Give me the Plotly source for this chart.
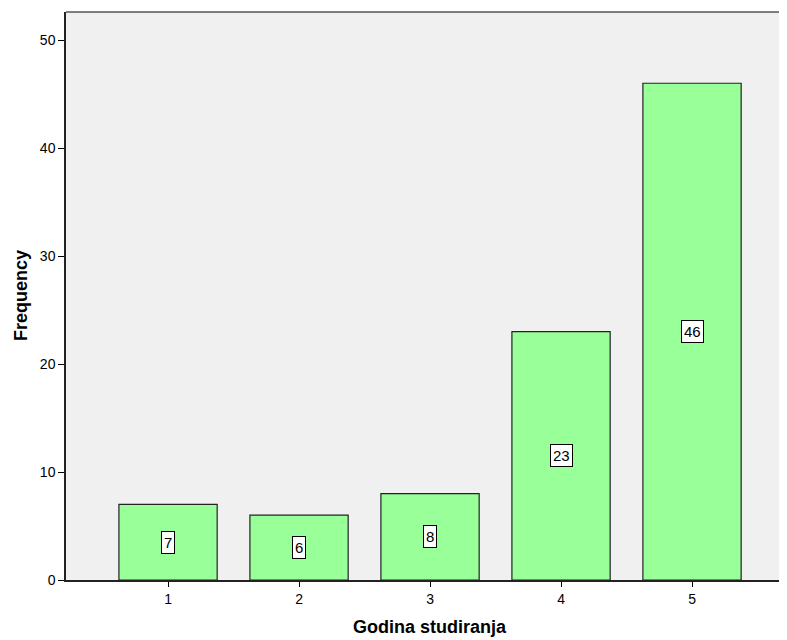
import plotly.graph_objects as go

categories = [1, 2, 3, 4, 5]
frequencies = [7, 6, 8, 23, 46]
y_ticks = [0, 10, 20, 30, 40, 50]
x_title = "Godina studiranja"
y_title = "Frequency"

fig = go.Figure()
fig.add_trace(go.Bar(
    x=categories, y=frequencies, width=0.75,
    marker=dict(color="#99FF99", line=dict(color="#222222", width=1.2)),
    hoverinfo="skip",
))
for c, v in zip(categories, frequencies):
    fig.add_annotation(
        x=c, y=v / 2, text=str(v), showarrow=False,
        font=dict(family="Liberation Sans, Arial", size=15, color="black"),
        bgcolor="white", bordercolor="black", borderwidth=1, borderpad=2,
    )

# axis titles
fig.add_annotation(
    x=3, xref="x", y=0, yref="paper", yanchor="middle", yshift=-47,
    text="<b>" + x_title + "</b>", showarrow=False,
    font=dict(family="Liberation Sans, Arial", size=18, color="black"),
)
fig.add_annotation(
    x=0, xref="paper", y=0.5, yref="paper", xanchor="center", xshift=-45,
    text="<b>" + y_title + "</b>", textangle=-90, showarrow=False,
    font=dict(family="Liberation Sans, Arial", size=18, color="black"),
)

fig.update_layout(
    width=779, height=632,
    margin=dict(l=58, r=0, t=4, b=60, autoexpand=False),
    paper_bgcolor="white", plot_bgcolor="#F0F0F0",
    showlegend=False,
    font=dict(family="Liberation Sans, Arial", size=14, color="black"),
    xaxis=dict(
        range=[0.221, 5.725], tickvals=categories, ticktext=[str(c) for c in categories],
        ticks="outside", ticklen=5, tickcolor="black", showgrid=False, zeroline=False,
        showline=True, linecolor="#222222", linewidth=1.5, automargin=False,
    ),
    yaxis=dict(
        range=[0, 52.6], tickvals=y_ticks, ticks="outside", ticklen=6, tickcolor="black",
        showgrid=False, zeroline=False, showline=True, linecolor="#222222", linewidth=1.5,
        automargin=False,
    ),
    shapes=[dict(type="line", xref="paper", yref="paper", x0=0, x1=1, y0=1, y1=1,
                 line=dict(color="#555555", width=1.5))],
)

fig.write_html("out.html")
